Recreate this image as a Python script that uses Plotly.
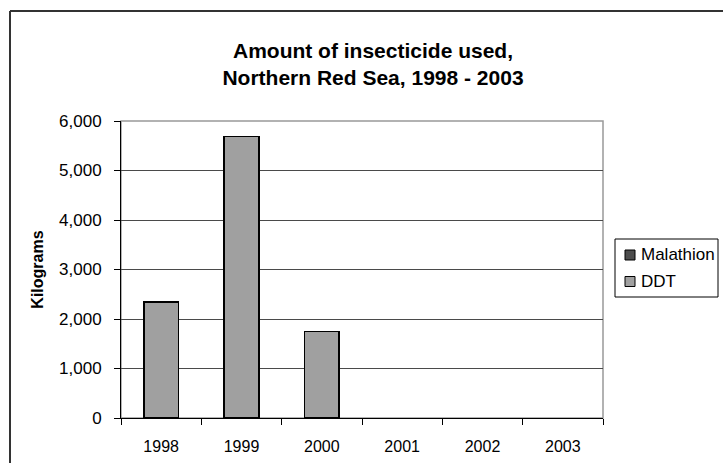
import plotly.graph_objects as go

years = ["1998", "1999", "2000", "2001", "2002", "2003"]
malathion = [0, 0, 0, 0, 0, 0]
ddt = [2340, 5690, 1750, 0, 0, 0]
y_ticks = [0, 1000, 2000, 3000, 4000, 5000, 6000]
series_names = ["Malathion", "DDT"]
series_colors = ["#4d4d4d", "#a0a0a0"]

W, H = 723, 463
L, R, T, B = 121, 120, 121, 45
pw, ph = W - L - R, H - T - B

def px_x(x):
    return (x - L) / pw

def px_y(y):
    return (H - B - y) / ph

FONT = "Liberation Sans, Arial, sans-serif"

fig = go.Figure()
for name, vals, col in zip(series_names, [malathion, ddt], series_colors):
    fig.add_trace(go.Bar(x=years, y=vals, name=name, showlegend=False,
                         marker=dict(color=col,
                                     line=dict(color="#000000",
                                               width=[1.5 if v > 0 else 0 for v in vals]))))

shapes = [
    dict(type="rect", xref="paper", yref="paper", x0=0, x1=1, y0=0, y1=1,
         line=dict(color="#999999", width=1.5), layer="below"),
    dict(type="line", xref="paper", yref="paper", x0=px_x(10), x1=px_x(730),
         y0=px_y(11), y1=px_y(11), line=dict(color="#333333", width=2)),
    dict(type="line", xref="paper", yref="paper", x0=px_x(10), x1=px_x(10),
         y0=px_y(11), y1=px_y(470), line=dict(color="#333333", width=2)),
    # legend box
    dict(type="rect", xref="paper", yref="paper", x0=px_x(615), x1=px_x(718),
         y0=px_y(297), y1=px_y(239), line=dict(color="#000000", width=1), fillcolor="white"),
]
annotations = []
for i, (name, col) in enumerate(zip(series_names, series_colors)):
    cy = 255 + i * 26.5
    shapes.append(dict(type="rect", xref="paper", yref="paper",
                       x0=px_x(625), x1=px_x(635), y0=px_y(cy + 5), y1=px_y(cy - 5),
                       line=dict(color="#000000", width=1), fillcolor=col))
    annotations.append(dict(text=name, xref="paper", yref="paper", x=px_x(639), y=px_y(cy),
                            xanchor="left", yanchor="middle", showarrow=False,
                            font=dict(family=FONT, size=17, color="#000000")))

fig.update_layout(
    width=W, height=H,
    margin=dict(l=L, r=R, t=T, b=B, autoexpand=False),
    barmode="stack", bargap=0.57,
    plot_bgcolor="white", paper_bgcolor="white",
    font=dict(family=FONT, size=16, color="#000000"),
    title=dict(text="<b>Amount of insecticide used,<br>Northern Red Sea, 1998 - 2003</b>",
               x=373 / W, xanchor="center", xref="container",
               y=1 - 58 / H, yanchor="middle", yref="container",
               font=dict(family=FONT, size=21, color="#000000")),
    xaxis=dict(type="category", showgrid=False, showline=True, linecolor="#000000", linewidth=1,
               ticks="outside", tickson="boundaries", ticklen=6, tickcolor="#000000",
               ticklabelstandoff=14,
               tickfont=dict(family=FONT, size=16, color="#000000"), zeroline=False),
    yaxis=dict(range=[0, 6000], tickvals=y_ticks, tickformat=",d",
               showgrid=True, gridcolor="#4a4a4a", gridwidth=1,
               showline=True, linecolor="#000000", linewidth=1,
               ticks="outside", ticklen=6, tickcolor="#000000",
               ticklabelstandoff=9,
               tickfont=dict(family=FONT, size=17, color="#000000"), zeroline=False,
               title=dict(text="<b>Kilograms</b>", standoff=11,
                          font=dict(family=FONT, size=16, color="#000000"))),
    shapes=shapes,
    annotations=annotations,
)

fig.write_html("out.html", config={"displayModeBar": False},
               post_script="document.body.style.margin='0';document.body.style.overflow='hidden';")
